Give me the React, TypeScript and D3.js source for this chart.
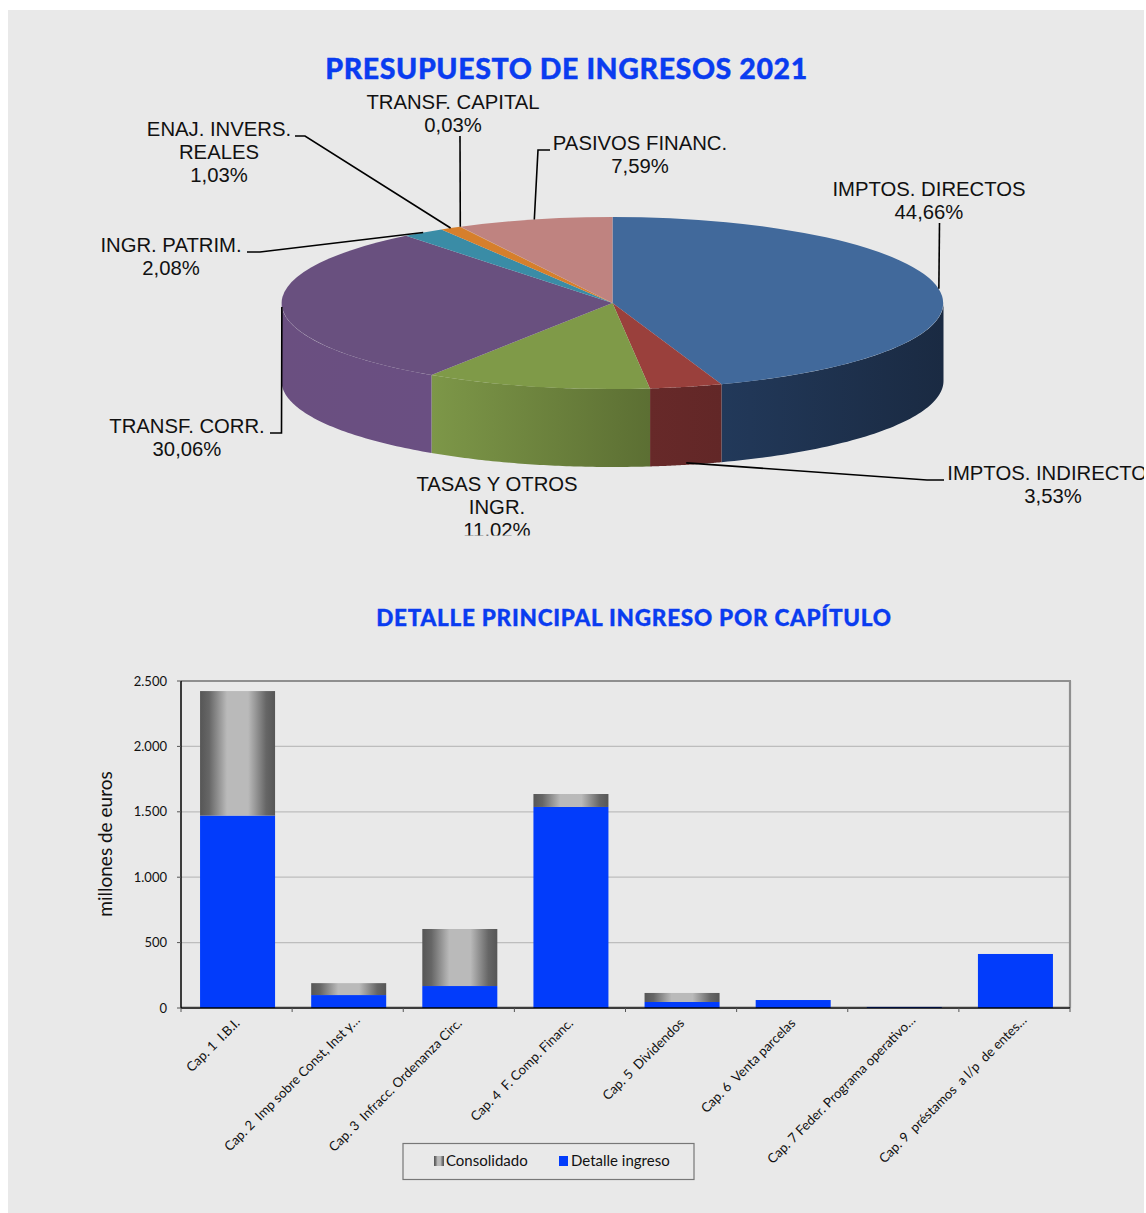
import React from "react";
import * as d3 from "d3";

// ---- data ----
const pieNames = [
  ["IMPTOS. DIRECTOS"],
  ["IMPTOS. INDIRECTOS"],
  ["TASAS Y OTROS", "INGR."],
  ["TRANSF. CORR."],
  ["INGR. PATRIM."],
  ["ENAJ. INVERS.", "REALES"],
  ["TRANSF. CAPITAL"],
  ["PASIVOS FINANC."],
];
const pieShares = [44.66, 3.53, 11.02, 30.06, 2.08, 1.03, 0.03, 7.59];
const pieTopColors = ["#41699b", "#9a403c", "#7f9a48", "#69507f", "#3a8ca6", "#d67f2c", "#d67f2c", "#bf8380"];
const pieSideLeft = ["#22395a", "#672929", "#7d9748", "#6a4f80", "#3a8ca6", "#d67f2c", "#d67f2c", "#bf8380"];
const pieSideRight = ["#1a2a42", "#622727", "#5c6f33", "#6a4f82", "#3a8ca6", "#d67f2c", "#d67f2c", "#bf8380"];

const categories = [
  "Cap. 1  I.B.I.",
  "Cap. 2  Imp sobre Const, Inst y…",
  "Cap. 3  Infracc. Ordenanza Circ.",
  "Cap. 4  F. Comp. Financ.",
  "Cap. 5  Dividendos",
  "Cap. 6  Venta parcelas",
  "Cap. 7 Feder. Programa operativo…",
  "Cap. 9  préstamos  a l/p  de entes…",
];
const detalleIngreso = [1471, 99, 168, 1537, 46, 61, 8, 413];
const consolidado = [952, 91, 436, 99, 69, 0, 0, 0];
const yTicks = [0, 500, 1000, 1500, 2000, 2500];

// ---- layout (label anchor, baseline, elbow path of each leader) ----
const labelLayout: { x: number; y: number; elbow: [number, number][]; bottom?: boolean; none?: boolean }[] = [
  { x: 929, y: 196, elbow: [[939.5, 223]] },
  { x: 1054, y: 480, elbow: [[944, 480], [927, 480]], bottom: true },
  { x: 497, y: 491, elbow: [], none: true },
  { x: 187, y: 433, elbow: [[270, 433], [281.5, 433]] },
  { x: 171, y: 252, elbow: [[247, 252], [260, 252]] },
  { x: 219, y: 136, elbow: [[295, 136], [305, 136]] },
  { x: 453, y: 109, elbow: [[460, 136]] },
  { x: 640, y: 150, elbow: [[550, 150], [538, 150]] },
];

const loc = d3.formatLocale({ decimal: ",", thousands: ".", grouping: [3], currency: ["", "€"] });
const fmtTick = loc.format(",d");
const fmtPct = loc.format(".2f");

const BG = "#e9e9e9";
const BLUE = "#023cfb";
const TITLE = "#0a3cf0";
const LATO = "Lato, sans-serif";
const ARIAL = "'Liberation Sans', Arial, sans-serif";

const cx = 612.5, cy = 303, rx = 331, ry = 86, depth = 78;
const px = (a: number) => cx + rx * Math.sin(a);
const py = (a: number) => cy - ry * Math.cos(a);

export default function App() {
  const arcs = d3.pie<number>().sort(null).value((d) => d)(pieShares);
  const unitArc = d3.arc<d3.PieArcDatum<number>>().innerRadius(0).outerRadius(1);

  const wall = (a0: number, a1: number) => {
    const lo = Math.max(a0, Math.PI / 2);
    const hi = Math.min(a1, (3 * Math.PI) / 2);
    if (hi <= lo) return null;
    const n = 60;
    const angles = d3.range(n + 1).map((i) => lo + ((hi - lo) * i) / n);
    const line = d3.line<number[]>();
    const top = angles.map((a) => [px(a), py(a)]);
    const bot = angles.slice().reverse().map((a) => [px(a), py(a) + depth]);
    return { d: line(top.concat(bot)) + "Z", x0: px(lo), x1: px(hi) };
  };

  // bars
  const plot = { l: 181, r: 1070, t: 681, b: 1008 };
  const x = d3.scaleBand<string>().domain(categories).range([plot.l + 1, plot.r + 1]).paddingInner(0.325).paddingOuter(0.1625);
  const y = d3.scaleLinear().domain([0, 2500]).range([plot.b, plot.t]);
  const rows = categories.map((c, i) => ({ c, detalle: detalleIngreso[i], consolidado: consolidado[i] }));
  const stacked = d3.stack<any>().keys(["detalle", "consolidado"])(rows);

  return (
    <svg width={1146} height={1213} style={{ position: "absolute", left: 0, top: 0, display: "block" }}>
      <defs>
        <clipPath id="pieClip"><rect x={8} y={10} width={1136} height={525.5} /></clipPath>
        <linearGradient id="steel" x1="0" x2="1" y1="0" y2="0">
          <stop offset="0" stopColor="#565656" />
          <stop offset="0.12" stopColor="#666666" />
          <stop offset="0.36" stopColor="#bababa" />
          <stop offset="0.64" stopColor="#bababa" />
          <stop offset="0.88" stopColor="#666666" />
          <stop offset="1" stopColor="#565656" />
        </linearGradient>
        {arcs.map((a, i) => {
          const w = wall(a.startAngle, a.endAngle);
          return w ? (
            <linearGradient key={i} id={`side${i}`} gradientUnits="userSpaceOnUse"
              x1={Math.min(w.x0, w.x1)} x2={Math.max(w.x0, w.x1)} y1={0} y2={0}>
              <stop offset="0" stopColor={pieSideLeft[i]} />
              <stop offset="1" stopColor={pieSideRight[i]} />
            </linearGradient>
          ) : null;
        })}
      </defs>

      <rect x={8} y={10} width={1136} height={1203} fill={BG} />

      <text x={566.5} y={78.5} textAnchor="middle" fontFamily={LATO} fontWeight={900} fontSize={28.5} letterSpacing={0.6}
        fill={TITLE} stroke={TITLE} strokeWidth={0.4}>
        PRESUPUESTO DE INGRESOS 2021
      </text>

      {/* 3D pie */}
      <g>
        {arcs.map((a, i) => {
          const w = wall(a.startAngle, a.endAngle);
          return w ? <path key={i} d={w.d} fill={`url(#side${i})`} /> : null;
        })}
        <g transform={`translate(${cx},${cy}) scale(${rx},${ry})`}>
          {arcs.map((a, i) => (
            <path key={i} d={unitArc(a) as string} fill={pieTopColors[i]} />
          ))}
        </g>
      </g>

      {/* leaders */}
      {arcs.map((a, i) => {
        const l = labelLayout[i];
        if (l.none) return null;
        const mid = (a.startAngle + a.endAngle) / 2;
        const end: [number, number] = [px(mid), py(mid) + (l.bottom ? depth - 2 : 0)];
        return <path key={i} d={d3.line()([...l.elbow, end]) as string} fill="none" stroke="#000" strokeWidth={1.6} />;
      })}

      {/* pie labels */}
      <g clipPath="url(#pieClip)" fontFamily={ARIAL} fontSize={20.3} fill="#111" textAnchor="middle">
        {pieNames.map((lines, i) => {
          const l = labelLayout[i];
          return (
            <text key={i} x={l.x} y={l.y}>
              {lines.map((t, j) => (
                <tspan key={j} x={l.x} dy={j === 0 ? 0 : 23.2}>{t}</tspan>
              ))}
              <tspan x={i === 1 ? 1053 : l.x} dy={23.2}>{fmtPct(pieShares[i])}%</tspan>
            </text>
          );
        })}
      </g>

      <text x={634} y={625.5} textAnchor="middle" fontFamily={LATO} fontWeight={900} fontSize={22.5} letterSpacing={0.75}
        fill={TITLE} stroke={TITLE} strokeWidth={0.35}>
        DETALLE PRINCIPAL INGRESO POR CAPÍTULO
      </text>

      {/* bar chart */}
      {yTicks.slice(0, -1).map((t) => (
        <line key={t} x1={plot.l} x2={plot.r} y1={y(t) - (t === 0 ? 1.5 : 0)} y2={y(t) - (t === 0 ? 1.5 : 0)} stroke="#bdbdbd" strokeWidth={1.2} />
      ))}
      <line x1={plot.l} x2={plot.r + 1} y1={plot.t} y2={plot.t} stroke="#8f8f8f" strokeWidth={2.2} />
      <line x1={plot.r} x2={plot.r} y1={plot.t} y2={plot.b} stroke="#8f8f8f" strokeWidth={2.2} />

      {stacked.map((s) =>
        s.map((d: any, i: number) =>
          d[1] > d[0] ? (
            <rect key={s.key + i} x={x(categories[i])} width={x.bandwidth()} y={y(d[1])} height={y(d[0]) - y(d[1])}
              fill={s.key === "detalle" ? BLUE : "url(#steel)"} />
          ) : null
        )
      )}

      <line x1={plot.l} x2={plot.l} y1={plot.t} y2={plot.b} stroke="#000" strokeWidth={1.5} />
      <line x1={plot.l} x2={plot.r} y1={plot.b} y2={plot.b} stroke="#000" strokeWidth={1.5} />
      {yTicks.map((t) => (
        <g key={t}>
          <line x1={plot.l - 4} x2={plot.l} y1={y(t)} y2={y(t)} stroke="#555" />
          <text x={167} y={y(t) + 4.5} textAnchor="end" fontFamily={LATO} fontSize={13} fill="#111">{fmtTick(t)}</text>
        </g>
      ))}
      {d3.range(categories.length + 1).map((i) => (
        <line key={i} x1={plot.l + i * (plot.r - plot.l) / categories.length} x2={plot.l + i * (plot.r - plot.l) / categories.length}
          y1={plot.b} y2={plot.b + 4} stroke="#555" />
      ))}
      {categories.map((c) => {
        const cut = c.endsWith("…");
        const cxx = (x(c) as number) + x.bandwidth() / 2 + (cut ? 12 : 3);
        return (
          <text key={c} transform={`translate(${cxx},${cut ? 1021 : 1024}) rotate(-45)`} textAnchor="end" fontFamily={LATO} fontSize={13.2}
            fill="#111" style={{ whiteSpace: "pre" }}>
            {c}
          </text>
        );
      })}

      <text transform="translate(112,844) rotate(-90)" textAnchor="middle" fontFamily={LATO} fontSize={19} fill="#111">
        millones de euros
      </text>

      {/* legend */}
      <rect x={403} y={1143.5} width={291} height={36} fill="none" stroke="#777" strokeWidth={1.2} />
      <rect x={434} y={1156} width={10} height={10} fill="url(#steel)" />
      <text x={446} y={1166} fontFamily={LATO} fontSize={15} fill="#111">Consolidado</text>
      <rect x={559} y={1156} width={9} height={10} fill={BLUE} />
      <text x={571} y={1166} fontFamily={LATO} fontSize={15} fill="#111">Detalle ingreso</text>
    </svg>
  );
}
